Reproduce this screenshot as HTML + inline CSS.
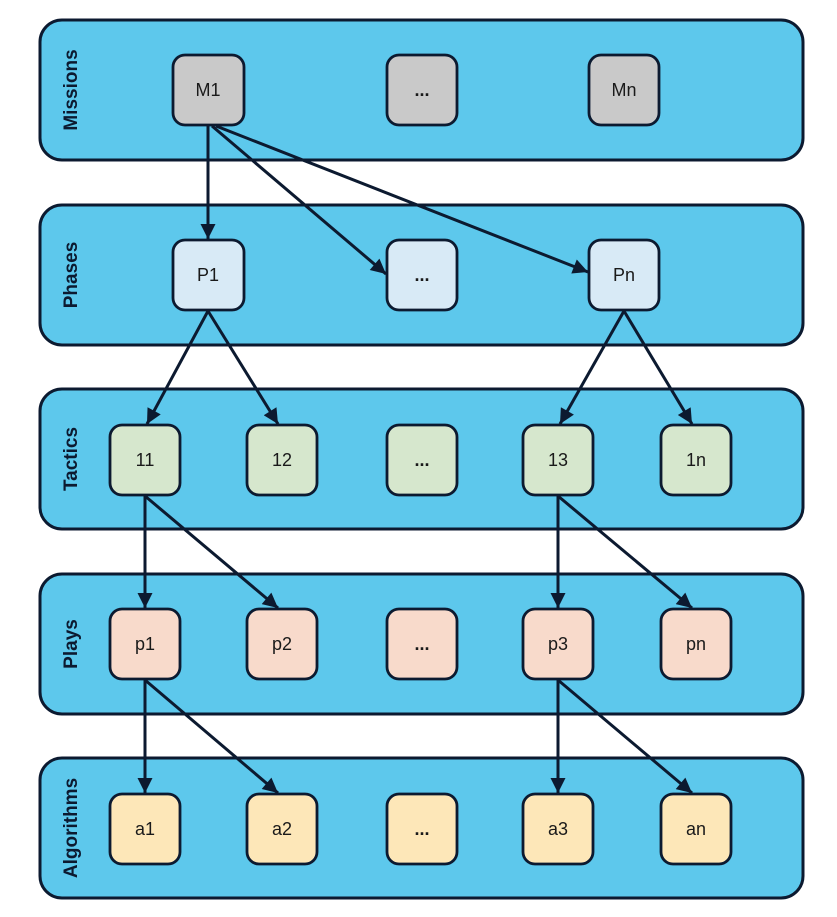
<!DOCTYPE html>
<html><head><style>body{margin:0;background:#fff}</style></head><body>
<svg width="837" height="912" viewBox="0 0 837 912" xmlns="http://www.w3.org/2000/svg" font-family="Liberation Sans, sans-serif">
<defs>
<marker id="b" viewBox="0 0 10 10" markerWidth="17" markerHeight="15" refX="10" refY="5" orient="auto" markerUnits="userSpaceOnUse"><path d="M0,0 L10,5 L0,10 z" fill="#0c1a30"/></marker></defs>
<g fill="#5dc8ec" stroke="#0c1a30" stroke-width="3">
<rect x="40" y="20" width="763" height="140" rx="22"/>
<rect x="40" y="205" width="763" height="140" rx="22"/>
<rect x="40" y="389" width="763" height="140" rx="22"/>
<rect x="40" y="574" width="763" height="140" rx="22"/>
<rect x="40" y="758" width="763" height="140" rx="22"/>
</g>
<g font-size="19" font-weight="bold" fill="#0c1a30" text-anchor="middle">
<text transform="translate(77,90) rotate(-90)">Missions</text>
<text transform="translate(77,275) rotate(-90)">Phases</text>
<text transform="translate(77,459) rotate(-90)">Tactics</text>
<text transform="translate(77,644) rotate(-90)">Plays</text>
<text transform="translate(77,828) rotate(-90)">Algorithms</text>
</g>
<g stroke="#0c1a30" stroke-width="2.8" fill="#c9c9c9">
<rect x="173" y="55" width="71" height="70" rx="12"/><rect x="387" y="55" width="70" height="70" rx="12"/><rect x="589" y="55" width="70" height="70" rx="12"/>
</g>
<g stroke="#0c1a30" stroke-width="2.8" fill="#d8eaf6">
<rect x="173" y="240" width="71" height="70" rx="12"/><rect x="387" y="240" width="70" height="70" rx="12"/><rect x="589" y="240" width="70" height="70" rx="12"/>
</g>
<g stroke="#0c1a30" stroke-width="2.8" fill="#d6e7cd">
<rect x="110" y="425" width="70" height="70" rx="12"/><rect x="247" y="425" width="70" height="70" rx="12"/><rect x="387" y="425" width="70" height="70" rx="12"/><rect x="523" y="425" width="70" height="70" rx="12"/><rect x="661" y="425" width="70" height="70" rx="12"/>
</g>
<g stroke="#0c1a30" stroke-width="2.8" fill="#f8dacb">
<rect x="110" y="609" width="70" height="70" rx="12"/><rect x="247" y="609" width="70" height="70" rx="12"/><rect x="387" y="609" width="70" height="70" rx="12"/><rect x="523" y="609" width="70" height="70" rx="12"/><rect x="661" y="609" width="70" height="70" rx="12"/>
</g>
<g stroke="#0c1a30" stroke-width="2.8" fill="#fde7b8">
<rect x="110" y="794" width="70" height="70" rx="12"/><rect x="247" y="794" width="70" height="70" rx="12"/><rect x="387" y="794" width="70" height="70" rx="12"/><rect x="523" y="794" width="70" height="70" rx="12"/><rect x="661" y="794" width="70" height="70" rx="12"/>
</g>
<g font-size="18" fill="#1a1a1a" text-anchor="middle">
<text x="208" y="96">M1</text><text x="422" y="96" font-weight="bold">...</text><text x="624" y="96">Mn</text>
<text x="208" y="281">P1</text><text x="422" y="281" font-weight="bold">...</text><text x="624" y="281">Pn</text>
<text x="145" y="466">11</text><text x="282" y="466">12</text><text x="422" y="466" font-weight="bold">...</text><text x="558" y="466">13</text><text x="696" y="466">1n</text>
<text x="145" y="650">p1</text><text x="282" y="650">p2</text><text x="422" y="650" font-weight="bold">...</text><text x="558" y="650">p3</text><text x="696" y="650">pn</text>
<text x="145" y="835">a1</text><text x="282" y="835">a2</text><text x="422" y="835" font-weight="bold">...</text><text x="558" y="835">a3</text><text x="696" y="835">an</text>
</g>
<g stroke="#0c1a30" stroke-width="3" marker-end="url(#b)">
<line x1="208" y1="126" x2="208" y2="239"/>
<line x1="212" y1="126" x2="386" y2="274"/>
<line x1="216" y1="126" x2="588" y2="272"/>
<line x1="208" y1="311" x2="147" y2="424"/>
<line x1="208" y1="311" x2="278" y2="424"/>
<line x1="624" y1="311" x2="560" y2="424"/>
<line x1="624" y1="311" x2="692" y2="424"/>
<line x1="145" y1="496" x2="145" y2="608"/>
<line x1="145" y1="496" x2="278" y2="608"/>
<line x1="558" y1="496" x2="558" y2="608"/>
<line x1="558" y1="496" x2="692" y2="608"/>
<line x1="145" y1="680" x2="145" y2="793"/>
<line x1="145" y1="680" x2="278" y2="793"/>
<line x1="558" y1="680" x2="558" y2="793"/>
<line x1="558" y1="680" x2="692" y2="793"/>
</g>
</svg>
</body></html>
